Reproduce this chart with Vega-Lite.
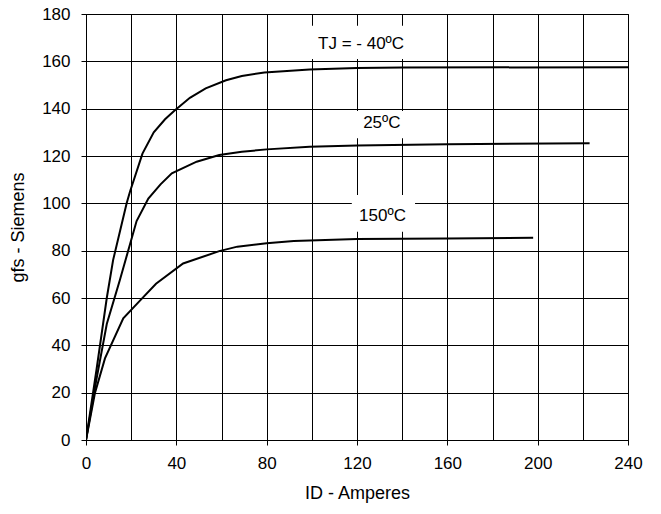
{
  "$schema": "https://vega.github.io/schema/vega-lite/v6.json",
  "width": 542,
  "height": 426,
  "autosize": "none",
  "padding": {"left": 86, "top": 14, "right": 33, "bottom": 74},
  "background": "white",
  "config": {
    "view": {"stroke": "black", "strokeWidth": 1},
    "font": "Liberation Sans",
    "axis": {
      "labelFont": "Liberation Sans",
      "titleFont": "Liberation Sans",
      "labelFontSize": 17,
      "titleFontSize": 18,
      "titleFontWeight": "normal",
      "labelColor": "black",
      "titleColor": "black",
      "gridColor": "black",
      "gridOpacity": 1,
      "gridWidth": 1,
      "tickColor": "black",
      "domainColor": "black",
      "labelFlush": false,
      "labelOverlap": false
    }
  },
  "datasets": {
    "curves": [
      {"T": "-40", "I": 0, "g": 0},
      {"T": "-40", "I": 4.7, "g": 30},
      {"T": "-40", "I": 9.2, "g": 60},
      {"T": "-40", "I": 12, "g": 76},
      {"T": "-40", "I": 18, "g": 100},
      {"T": "-40", "I": 19.5, "g": 105},
      {"T": "-40", "I": 25, "g": 121},
      {"T": "-40", "I": 30, "g": 130},
      {"T": "-40", "I": 35, "g": 135.5},
      {"T": "-40", "I": 39, "g": 139},
      {"T": "-40", "I": 46, "g": 144.6},
      {"T": "-40", "I": 53, "g": 148.6},
      {"T": "-40", "I": 62, "g": 152},
      {"T": "-40", "I": 69, "g": 153.8},
      {"T": "-40", "I": 79, "g": 155.3},
      {"T": "-40", "I": 99, "g": 156.6},
      {"T": "-40", "I": 120, "g": 157.2},
      {"T": "-40", "I": 140, "g": 157.4},
      {"T": "-40", "I": 241, "g": 157.5},
      {"T": "25", "I": 0, "g": 0},
      {"T": "25", "I": 4.5, "g": 25},
      {"T": "25", "I": 9.2, "g": 49},
      {"T": "25", "I": 15, "g": 67.6},
      {"T": "25", "I": 22.4, "g": 92.5},
      {"T": "25", "I": 27.6, "g": 102},
      {"T": "25", "I": 33, "g": 108},
      {"T": "25", "I": 38, "g": 112.7},
      {"T": "25", "I": 49, "g": 117.6},
      {"T": "25", "I": 59, "g": 120.4},
      {"T": "25", "I": 69, "g": 121.8},
      {"T": "25", "I": 80, "g": 122.8},
      {"T": "25", "I": 99, "g": 123.9},
      {"T": "25", "I": 120, "g": 124.4},
      {"T": "25", "I": 160, "g": 125},
      {"T": "25", "I": 223, "g": 125.4},
      {"T": "150", "I": 0, "g": 0},
      {"T": "150", "I": 4, "g": 20},
      {"T": "150", "I": 8.4, "g": 34.5},
      {"T": "150", "I": 16.5, "g": 51.4},
      {"T": "150", "I": 24, "g": 59},
      {"T": "150", "I": 31, "g": 66},
      {"T": "150", "I": 43, "g": 74.6},
      {"T": "150", "I": 59, "g": 79.8},
      {"T": "150", "I": 67, "g": 81.7},
      {"T": "150", "I": 80, "g": 83.1},
      {"T": "150", "I": 92, "g": 84.1},
      {"T": "150", "I": 120, "g": 84.9},
      {"T": "150", "I": 160, "g": 85.1},
      {"T": "150", "I": 198, "g": 85.5}
    ],
    "boxes": [
      {"x1": 98, "x2": 142, "y1": 161, "y2": 175},
      {"x1": 118, "x2": 142, "y1": 127.5, "y2": 139},
      {"x1": 117.7, "x2": 145.7, "y1": 88, "y2": 103.5}
    ],
    "labels": [
      {"x": 121.8, "y": 167.3, "text": "TJ = - 40ºC"},
      {"x": 131, "y": 133.8, "text": "25ºC"},
      {"x": 131.3, "y": 94.8, "text": "150ºC"}
    ]
  },
  "layer": [
    {
      "data": {"name": "boxes"},
      "mark": {"type": "rect", "fill": "white", "stroke": null},
      "encoding": {
        "x": {"field": "x1", "type": "quantitative", "scale": {"domain": [0, 240], "nice": false}},
        "x2": {"field": "x2"},
        "y": {"field": "y1", "type": "quantitative", "scale": {"domain": [0, 180], "nice": false}},
        "y2": {"field": "y2"}
      }
    },
    {
      "data": {"name": "curves"},
      "mark": {"type": "line", "color": "black", "strokeWidth": 2, "clip": true},
      "encoding": {
        "x": {
          "field": "I", "type": "quantitative",
          "scale": {"domain": [0, 240], "nice": false},
          "axis": {
            "values": [0, 20, 40, 60, 80, 100, 120, 140, 160, 180, 200, 220, 240],
            "labelExpr": "datum.value % 40 === 0 ? datum.label : ''",
            "tickOpacity": {"condition": {"test": "datum.value % 40 === 0", "value": 1}, "value": 0},
            "tickSize": 5,
            "labelPadding": 10,
            "title": "ID - Amperes",
            "titlePadding": 13,
            "grid": true,
            "domain": true
          }
        },
        "y": {
          "field": "g", "type": "quantitative",
          "scale": {"domain": [0, 180], "nice": false},
          "axis": {
            "values": [0, 20, 40, 60, 80, 100, 120, 140, 160, 180],
            "tickSize": 5,
            "labelPadding": 11,
            "title": "gfs - Siemens",
            "titlePadding": 14,
            "grid": true
          }
        },
        "detail": {"field": "T", "type": "nominal"},
        "order": {"field": "I", "type": "quantitative"}
      }
    },
    {
      "data": {"name": "labels"},
      "mark": {"type": "text", "font": "Liberation Sans", "fontSize": 17, "color": "black", "align": "center", "baseline": "middle"},
      "encoding": {
        "x": {"field": "x", "type": "quantitative"},
        "y": {"field": "y", "type": "quantitative"},
        "text": {"field": "text"}
      }
    }
  ]
}
